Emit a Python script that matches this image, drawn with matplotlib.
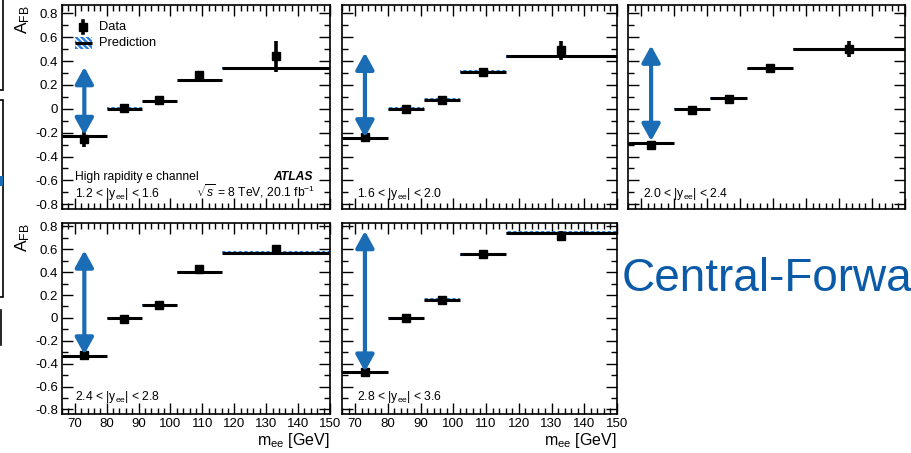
import matplotlib
matplotlib.use("Agg")
import matplotlib.pyplot as plt
from matplotlib.lines import Line2D
from matplotlib.patches import Rectangle
from matplotlib.ticker import MultipleLocator
import numpy as np

plt.rcParams['font.family'] = ['Liberation Sans', 'DejaVu Sans']
plt.rcParams['mathtext.fontset'] = 'custom'
plt.rcParams['mathtext.rm'] = 'Liberation Sans'
plt.rcParams['mathtext.it'] = 'Liberation Sans:italic'
plt.rcParams['mathtext.bf'] = 'Liberation Sans:bold'
plt.rcParams['hatch.linewidth'] = 1.7

# ---------------- data ----------------
bin_edges = [66, 80, 91, 102, 116, 150]
bin_centers = [73, 85.5, 96.5, 109, 133]
rapidity_labels = [
    r'1.2 < |y$_{\rm ee}$| < 1.6',
    r'1.6 < |y$_{\rm ee}$| < 2.0',
    r'2.0 < |y$_{\rm ee}$| < 2.4',
    r'2.4 < |y$_{\rm ee}$| < 2.8',
    r'2.8 < |y$_{\rm ee}$| < 3.6',
]
data_p1 = [-0.25, 0.01, 0.07, 0.28, 0.44]
err_p1 = [0.07, 0.02, 0.02, 0.04, 0.13]
pred_p1 = [-0.23, 0.00, 0.065, 0.24, 0.34]

data_p2 = [-0.235, 0.00, 0.07, 0.31, 0.49]
err_p2 = [0.02, 0.015, 0.015, 0.02, 0.08]
pred_p2 = [-0.245, 0.00, 0.075, 0.31, 0.44]

data_p3 = [-0.30, -0.01, 0.086, 0.34, 0.50]
err_p3 = [0.015, 0.015, 0.015, 0.02, 0.07]
pred_p3 = [-0.29, -0.005, 0.09, 0.34, 0.50]

data_p4 = [-0.32, -0.005, 0.11, 0.43, 0.60]
err_p4 = [0.015, 0.015, 0.015, 0.02, 0.035]
pred_p4 = [-0.335, 0.00, 0.11, 0.40, 0.57]

data_p5 = [-0.47, 0.00, 0.16, 0.555, 0.72]
err_p5 = [0.015, 0.015, 0.015, 0.03, 0.04]
pred_p5 = [-0.475, 0.00, 0.16, 0.555, 0.745]

pred_unc = 0.012
arrow_x = 73
arrow_top = [0.35, 0.47, 0.53, 0.59, 0.76]
arrow_bottom = [-0.22, -0.24, -0.27, -0.32, -0.47]

data_all = [data_p1, data_p2, data_p3, data_p4, data_p5]
err_all = [err_p1, err_p2, err_p3, err_p4, err_p5]
pred_all = [pred_p1, pred_p2, pred_p3, pred_p4, pred_p5]

xticks = [70, 80, 90, 100, 110, 120, 130, 140, 150]
yticks = [-0.8, -0.6, -0.4, -0.2, 0, 0.2, 0.4, 0.6, 0.8]
ytick_labels = ['-0.8', '-0.6', '-0.4', '-0.2', '0', '0.2', '0.4', '0.6', '0.8']
legend_labels = ['Data', 'Prediction']

# ---------------- figure ----------------
W, H = 911, 453
fig = plt.figure(figsize=(W / 100, H / 100), dpi=100)

def px_axes(x0, y0, x1, y1):
    return fig.add_axes([x0 / W, 1 - y1 / H, (x1 - x0) / W, (y1 - y0) / H])

axes_pos = [
    (62, 5, 330, 209),
    (342, 5, 617, 209),
    (628, 5, 905, 209),
    (62, 223, 330, 414),
    (342, 223, 617, 414),
]
ylims = [(-0.84, 0.87)] * 3 + [(-0.84, 0.83)] * 2
label_x = [0.049, 0.055, 0.055, 0.049, 0.055]
label_y = [0.059, 0.059, 0.059, 0.072, 0.072]

BLUE = '#1a6cb4'
HATCH_BLUE = '#2a7de1'
HATCH = '\\\\\\\\\\\\'

for i, pos in enumerate(axes_pos):
    ax = px_axes(*pos)
    ax.set_xlim(66, 150)
    ax.set_ylim(*ylims[i])
    for s in ax.spines.values():
        s.set_linewidth(1.2)
    ax.xaxis.set_major_locator(MultipleLocator(10))
    ax.xaxis.set_minor_locator(MultipleLocator(2))
    ax.set_yticks(yticks)
    ax.yaxis.set_minor_locator(MultipleLocator(0.1))
    ax.tick_params(which='both', direction='in', top=True, right=True,
                   width=1.0, labelsize=9.5, pad=3)
    ax.tick_params(which='major', length=8)
    ax.tick_params(which='minor', length=4)
    left_col = i in (0, 3)
    bottom_row = i >= 3
    if left_col:
        ax.set_yticklabels(ytick_labels)
    else:
        ax.set_yticklabels([])
    if bottom_row:
        ax.set_xticks(xticks)
        ax.set_xticklabels([str(v) for v in xticks])
    else:
        ax.set_xticklabels([])

    pred = pred_all[i]
    for j in range(5):
        lo, hi = bin_edges[j], bin_edges[j + 1]
        ax.fill_between([lo, hi], [pred[j] - pred_unc] * 2, [pred[j] + pred_unc] * 2,
                        facecolor='none', edgecolor=HATCH_BLUE, hatch=HATCH,
                        linewidth=0, zorder=2)
        ax.plot([lo, hi], [pred[j]] * 2, color='black', lw=2.2, zorder=3,
                solid_capstyle='butt')
    ax.errorbar(bin_centers, data_all[i], yerr=err_all[i], fmt='s', color='black',
                ms=5.5, elinewidth=2.6, capsize=0, zorder=5)
    ax.annotate('', xy=(arrow_x, arrow_top[i]), xytext=(arrow_x, arrow_bottom[i]),
                arrowprops=dict(arrowstyle='<|-|>,head_length=1.0,head_width=0.55',
                                color=BLUE, lw=3, shrinkA=0, shrinkB=0), zorder=6)

    ax.text(label_x[i], label_y[i], rapidity_labels[i], transform=ax.transAxes,
            fontsize=8.7, ha='left', va='baseline')

    if left_col:
        ax.text(-0.145, 1.0, r'A$_{\rm FB}$', transform=ax.transAxes, rotation=90,
                fontsize=12.5, ha='center', va='top')
    if bottom_row:
        ax.text(1.0, -0.16, r'm$_{\rm ee}$ [GeV]', transform=ax.transAxes,
                fontsize=11.5, ha='right', va='baseline')

    if i == 0:
        ax.text(0.049, 0.142, 'High rapidity e channel', transform=ax.transAxes,
                fontsize=8.7, ha='left', va='baseline')
        ax.text(0.937, 0.142, 'ATLAS', transform=ax.transAxes, fontsize=8.7,
                fontweight='bold', fontstyle='italic', ha='right', va='baseline')
        ax.text(0.944, 0.059, r'$\sqrt{s}$ = 8 TeV, 20.1 fb$^{-1}$', transform=ax.transAxes,
                fontsize=8.7, ha='right', va='baseline')
        # hand-built legend (ROOT style)
        ta = ax.transAxes
        ax.add_line(Line2D([0.078, 0.078], [0.862, 0.922], transform=ta,
                           color='black', lw=2.6, zorder=7))
        ax.add_line(Line2D([0.078], [0.892], transform=ta, marker='s', ms=5.5,
                           color='black', lw=0, zorder=7))
        ax.add_patch(Rectangle((0.049, 0.784), 0.063, 0.059, transform=ta,
                               facecolor='none', edgecolor=HATCH_BLUE,
                               hatch=HATCH, linewidth=0, zorder=7))
        ax.add_line(Line2D([0.049, 0.112], [0.814, 0.814], transform=ta,
                           color='black', lw=2.2, zorder=8, solid_capstyle='butt'))
        ax.text(0.138, 0.892, legend_labels[0], transform=ta, fontsize=9.3,
                ha='left', va='center')
        ax.text(0.138, 0.814, legend_labels[1], transform=ta, fontsize=9.3,
                ha='left', va='center')

# Slide text on the right
fig.text(622 / W, 1 - 291 / H, 'Central-Forwa', fontsize=33, color='#0a5aa8',
         ha='left', va='baseline')

# Remnants of a neighbouring figure at the left edge
fig.add_artist(Rectangle((-20 / W, 1 - 90 / H), 22.5 / W, 100 / H,
                         transform=fig.transFigure, fill=False, lw=1.2, ec='black'))
fig.add_artist(Rectangle((-20 / W, 1 - 297 / H), 22.5 / W, 197 / H,
                         transform=fig.transFigure, fill=False, lw=1.2, ec='black'))
fig.add_artist(Rectangle((0, 1 - 186 / H), 2.5 / W, 10 / H,
                         transform=fig.transFigure, fc=BLUE, ec='none'))
fig.add_artist(Line2D([1 / W, 1 / W], [1 - 345 / H, 1 - 310 / H],
                      transform=fig.transFigure, color='black', lw=1.2))

fig.savefig('out.png', dpi=100, facecolor='white')
